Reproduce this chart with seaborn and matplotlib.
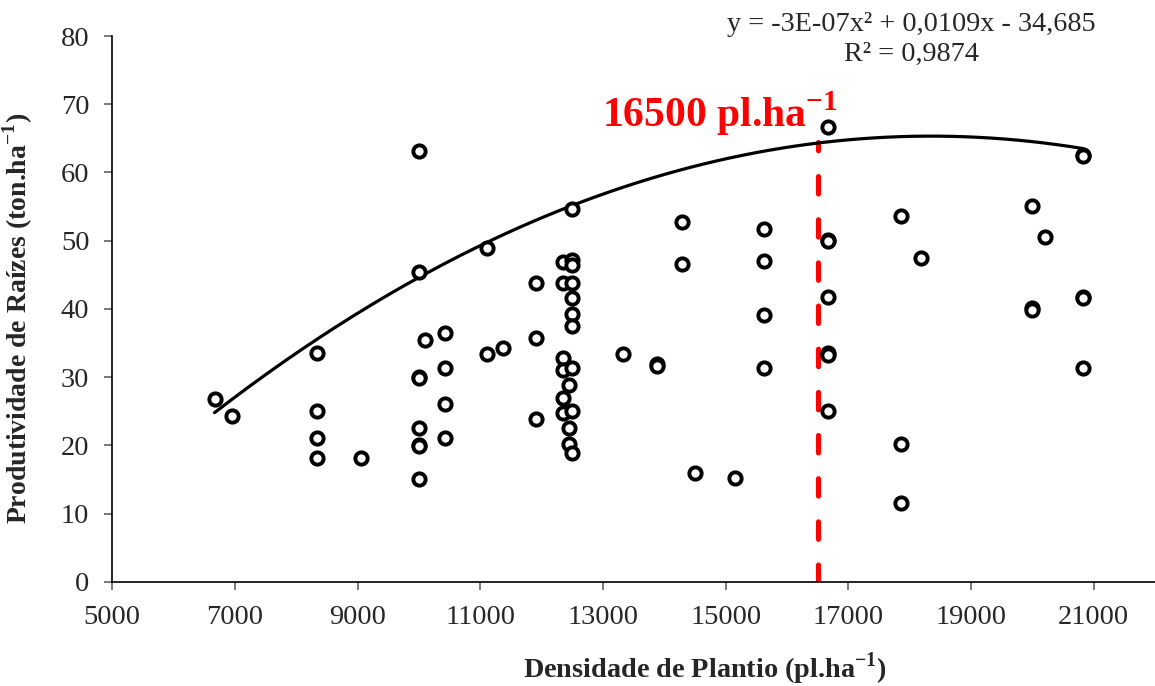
import numpy as np
import pandas as pd
import matplotlib
matplotlib.use('Agg')
import matplotlib.pyplot as plt
import seaborn as sns

# dados --------------------------------
densidade = [6667, 6944,
             8333, 8333, 8333, 8333,
             9048,
             10000, 10000, 10000, 10000, 10000, 10000, 10000, 10000,
             10100,
             10417, 10417, 10417, 10417,
             11111, 11111,
             11364,
             11905, 11905, 11905,
             12346, 12346, 12346, 12346, 12346, 12346,
             12500, 12500, 12500, 12500, 12500, 12500, 12500, 12500,
             12450, 12500, 12450, 12450, 12500,
             13333,
             13889, 13889,
             14286, 14286,
             14500,
             15152,
             15625, 15625, 15625, 15625,
             16667, 16667, 16667, 16667, 16667, 16667, 16667,
             17857, 17857, 17857,
             18182,
             20000, 20000, 20000,
             20202,
             20833, 20833, 20833, 20833, 20833]
produtividade = [26.8, 24.3,
                 33.5, 25.0, 21.0, 18.2,
                 18.2,
                 63.2, 45.4, 30.0, 29.8, 22.6, 20.1, 19.9, 15.1,
                 35.4,
                 36.5, 31.3, 26.1, 21.0,
                 48.9, 33.4,
                 34.2,
                 43.8, 35.7, 23.8,
                 46.9, 43.8, 32.8, 31.1, 26.9, 24.8,
                 54.6, 47.2, 46.4, 43.8, 41.6, 39.3, 37.5, 31.4,
                 28.8, 25.0, 22.5, 20.2, 18.9,
                 33.4,
                 31.9, 31.6,
                 52.7, 46.6,
                 16.0,
                 15.2,
                 51.7, 47.0, 39.1, 31.3,
                 66.7, 50.1, 49.9, 41.7, 33.5, 33.3, 25.1,
                 53.6, 20.2, 11.5,
                 47.4,
                 55.1, 40.1, 39.9,
                 50.5,
                 62.6, 62.4, 41.8, 41.6, 31.3]

# linha de tendencia polinomial (a, b, c)
coef_tendencia = [-2.97e-07, 0.0109, -34.685]
eq_texto = 'y = -3E-07x\u00b2 + 0,0109x - 34,685\nR\u00b2 = 0,9874'

dens_otima = 16500
prod_otima = 64.4
#---------------------------------------

sns.set_style('ticks')
plt.rcParams['font.family'] = ['Liberation Serif', 'DejaVu Serif']
plt.rcParams['mathtext.fontset'] = 'custom'
plt.rcParams['mathtext.rm'] = 'Liberation Serif'
plt.rcParams['mathtext.bf'] = 'Liberation Serif:bold'

df = pd.DataFrame({'dens': densidade, 'prod': produtividade})

fig = plt.figure(figsize=(11.55, 6.86), dpi=100)
ax = fig.add_axes([0.0972, 0.152, 0.9028, 0.7955])

# curva
xs = np.linspace(min(densidade), max(densidade), 200)
ys = np.polyval(coef_tendencia, xs)
sns.lineplot(x=xs, y=ys, ax=ax, color='black', linewidth=2.3, zorder=2)

# linha vermelha da densidade otima
ax.plot([dens_otima, dens_otima], [0, prod_otima], color='#ff0000', linewidth=3.7,
        dashes=(3.4, 5.0), dash_capstyle='round', zorder=1)

sns.scatterplot(data=df, x='dens', y='prod', ax=ax, marker='o', s=78,
                facecolor='white', edgecolor='black', linewidth=2.8, zorder=3)

ax.set_xlim(5000, 22000)
ax.set_ylim(0, 80)
ax.set_xticks(np.arange(5000, 21001, 2000))
ax.set_yticks(np.arange(0, 81, 10))
ax.tick_params(axis='both', direction='out', length=6, width=1.1, color='#555555',
               labelsize=20.5, pad=10.5)
for s in ['top', 'right']:
    ax.spines[s].set_visible(False)
for s in ['left', 'bottom']:
    ax.spines[s].set_linewidth(1.2)
    ax.spines[s].set_color('black')

ax.set_xlabel('Densidade de Plantio (pl.ha$^{\\mathbf{-1}}$)', fontsize=20.3, fontweight='bold')
ax.set_ylabel('Produtividade de Ra\u00edzes (ton.ha$^{\\mathbf{-1}}$)', fontsize=20, fontweight='bold')
ax.xaxis.set_label_coords(0.568, -0.125)
ax.yaxis.set_label_coords(-0.074, 0.483)

ax.text(18030, 79.5, eq_texto, ha='center', va='center', fontsize=20.3,
        linespacing=1.25, clip_on=False)
ax.text(12980, 66.6, '16500 pl.ha$^{\\mathbf{-1}}$', color='#ff0000', fontsize=30,
        fontweight='bold', ha='left', va='baseline')

fig.savefig('out.png', dpi=100)
